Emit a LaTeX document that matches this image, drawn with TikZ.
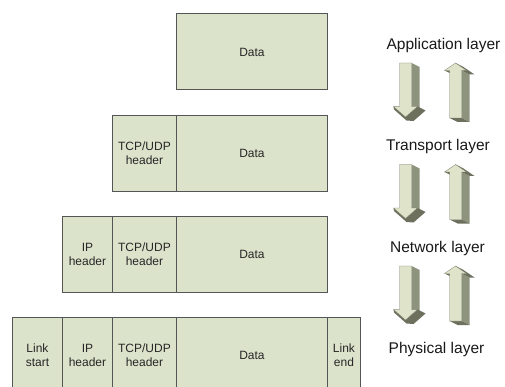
\documentclass[tikz,border=0pt]{standalone}
\usepackage{fontspec}
\setmainfont{Liberation Sans}
\definecolor{boxfill}{HTML}{DCE3CB}
\definecolor{boxline}{HTML}{555555}
\definecolor{arrfront}{HTML}{DEE3C9}
\definecolor{arrside}{HTML}{8E937E}
\definecolor{arrdark}{HTML}{6C705D}
\definecolor{arredge}{HTML}{7A7E6C}

% 3D block arrows, origin at the top of the shaft / at the tip
\newcommand{\downblock}[2]{%
  \begin{scope}[shift={(#1,#2)}]
    \fill[arrside] (6,0) -- (14,4) -- (14,47.5) -- (6,43.5) -- cycle;
    \fill[arrdark] (-12,43.5) -- (-11.5,46.5) -- (1,57.5) -- (8,58) -- (20,47.5) -- (12,43.5) -- cycle;
    \filldraw[fill=arrfront, draw=arredge, line width=0.3pt] (-6,0) -- (6,0) -- (6,43.5) -- (12,43.5) -- (0,54) -- (-12,43.5) -- (-6,43.5) -- cycle;
  \end{scope}}
\newcommand{\upblock}[2]{%
  \begin{scope}[shift={(#1,#2)}]
    \fill[arrside] (6,7.5) -- (14,11.5) -- (14,59) -- (6,55) -- cycle;
    \fill[arrdark] (0,0) -- (8,4) -- (19,11.5) -- (14,11.5) -- (6,7.5) -- cycle;
    \fill[arrdark] (-11,7.5) -- (-6,7.5) -- (2,11.5) -- (-3,11.5) -- cycle;
    \fill[arrdark] (-6,55) -- (6,55) -- (14,59) -- (2,59) -- cycle;
    \filldraw[fill=arrfront, draw=arredge, line width=0.3pt] (0,0) -- (11,7.5) -- (6,7.5) -- (6,55) -- (-6,55) -- (-6,7.5) -- (-11,7.5) -- cycle;
  \end{scope}}

\begin{document}
\begin{tikzpicture}[x=1pt, y=-1pt,
    seg/.style={draw=boxline, fill=boxfill, line width=0.9pt, anchor=north west,
      minimum height=76, inner sep=0pt, align=center, text=black!85,
      font=\fontsize{12}{14}\selectfont},
    layer/.style={anchor=base, inner sep=0pt, text=black!90,
      font=\fontsize{15.5}{18}\selectfont}]
  \useasboundingbox (0,0) rectangle (505,387);
  \clip (0,0) rectangle (505,387);
  % application layer
  \node[seg, minimum width=151] (d1) at (176,13.5) {Data};
  % transport layer
  \node[seg, minimum width=64] (t2) at (112,115) {TCP/UDP\\header};
  \node[seg, minimum width=151] (d2) at (176,115) {Data};
  % network layer
  \node[seg, minimum width=50] (i3) at (62,215.5) {IP\\header};
  \node[seg, minimum width=64] (t3) at (112,215.5) {TCP/UDP\\header};
  \node[seg, minimum width=151] (d3) at (176,215.5) {Data};
  % physical layer
  \node[seg, minimum width=50] (l4) at (12,316.5) {Link\\start};
  \node[seg, minimum width=50] (i4) at (62,316.5) {IP\\header};
  \node[seg, minimum width=64] (t4) at (112,316.5) {TCP/UDP\\header};
  \node[seg, minimum width=151] (d4) at (176,316.5) {Data};
  \node[seg, minimum width=33] (e4) at (327,316.5) {Link\\end};
  % layer names
  \node[layer] (app) at (443.5,50) {Application layer};
  \node[layer] (trans) at (438,151) {Transport layer};
  \node[layer] (net) at (437.5,252) {Network layer};
  \node[layer] (phys) at (436.5,353) {Physical layer};
  % arrows between the layers
  \foreach \yy in {63, 164.5, 266} {
    \downblock{405.5}{\yy}
    \upblock{455.5}{\yy}
  }
\end{tikzpicture}
\end{document}
